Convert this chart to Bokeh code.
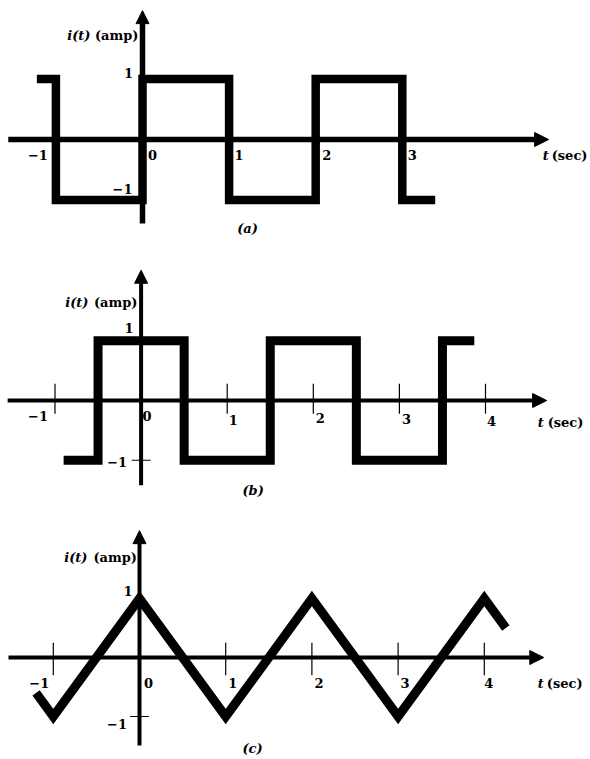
from bokeh.plotting import figure
from bokeh.models import Range1d, Arrow, NormalHead
from bokeh.layouts import column
from bokeh.embed import file_html
from bokeh.resources import INLINE
from bokeh.core.properties import value

# ---------------- data ----------------
a_t = [-1.22, -1, -1, 0, 0, 1, 1, 2, 2, 3, 3, 3.38]
a_i = [1, 1, -1, -1, 1, 1, -1, -1, 1, 1, -1, -1]

b_t = [-0.9, -0.5, -0.5, 0.5, 0.5, 1.5, 1.5, 2.5, 2.5, 3.5, 3.5, 3.87]
b_i = [-1, -1, 1, 1, -1, -1, 1, 1, -1, -1, 1, 1]

c_t = [-1.2, -1, 0, 1, 2, 3, 4, 4.25]
c_i = [-0.6, -1, 1, -1, 1, -1, 1, 0.5]

a_xticks = [-1, 0, 1, 2, 3]
bc_xticks = [-1, 0, 1, 2, 3, 4]
bc_tickmarks = [-1, 1, 2, 3, 4]
yticks = [1, -1]


def fmt(v):
    return ("\u2212" + str(-v)) if v < 0 else str(v)


FONT = value("DejaVu Serif")
FS = "13px"

# ---------------- layout helpers ----------------
W = 590


def panel(ref_top, height, x0, ux, ax_y, uy):
    xr = Range1d((0 - x0) / ux, (W - x0) / ux)
    yr = Range1d((ax_y - (ref_top + height)) / uy, (ax_y - ref_top) / uy)
    p = figure(width=W, height=height, x_range=xr, y_range=yr,
               output_backend="svg", toolbar_location=None,
               x_axis_location=None, y_axis_location=None, min_border=0)
    p.grid.visible = False
    p.outline_line_color = None
    p.background_fill_color = "white"
    p.border_fill_color = "white"
    return p


def axes(p, x_from, x_to, y_from, y_to, lw):
    p.add_layout(Arrow(end=NormalHead(size=14, fill_color="black", line_color="black"),
                       x_start=x_from, y_start=0, x_end=x_to, y_end=0,
                       line_width=lw, line_color="black"))
    p.add_layout(Arrow(end=NormalHead(size=13, fill_color="black", line_color="black"),
                       x_start=0, y_start=y_from, x_end=0, y_end=y_to,
                       line_width=lw, line_color="black"))


def txt(p, x, y, s, dx, dy, style="bold", align="center", baseline="middle"):
    p.text(x=[x], y=[y], text=[s], x_offset=dx, y_offset=dy,
           text_font=FONT, text_font_size=FS, text_font_style=style,
           text_align=align, text_baseline=baseline, text_color="black")


def titles(p, xtip, ydx_i, ydx_amp, ydy, tdx_t, tdx_sec, tdy, lab, ldx, ldy):
    txt(p, 0, 0, "i(t)", ydx_i, ydy, style="bold italic", align="right")
    txt(p, 0, 0, "(amp)", ydx_amp, ydy, align="right")
    txt(p, xtip, 0, "t", tdx_t, tdy, style="bold italic", align="left")
    txt(p, xtip, 0, "(sec)", tdx_sec, tdy, align="left")
    txt(p, 0, 0, lab, ldx, ldy, style="bold italic")


# ---------------- panel (a) ----------------
pa = panel(0, 258, 142, 86.6, 139, 60.5)
axes(pa, -1.55, 4.69, -1.39, 2.13, 5.5)
pa.line(a_t, a_i, line_width=8.5, line_color="black", line_join="miter", line_cap="butt")
a_dx = [-18, 10, 10, 11, 10]
for v, dx in zip(a_xticks, a_dx):
    txt(pa, v, 0, fmt(v), dx, 15)
txt(pa, 0, yticks[0], fmt(yticks[0]), -14, -6.5)
txt(pa, 0, yticks[1], fmt(yticks[1]), -20, -11.5)
titles(pa, 4.69, -52, -4, -104, -6, 3, 16, "(a)", 105, 89)

# ---------------- panel (b) ----------------
pb = panel(258, 250, 140.6, 86.1, 400, 59.75)
axes(pb, -1.55, 4.71, -1.42, 2.18, 4)
pb.segment(x0=bc_tickmarks, y0=[0.28] * len(bc_tickmarks), x1=bc_tickmarks,
           y1=[-0.22] * len(bc_tickmarks), line_width=1.2, line_color="black")
pb.segment(x0=[-0.11], y0=[yticks[1]], x1=[0.11], y1=[yticks[1]], line_width=1.2, line_color="black")
pb.line(b_t, b_i, line_width=9, line_color="black", line_join="miter", line_cap="butt")
b_dx = [-17, 6, 6, 7, 7, 6]
b_dy = [15, 15, 19, 17, 18, 20]
for v, dx, dy in zip(bc_xticks, b_dx, b_dy):
    txt(pb, v, 0, fmt(v), dx, dy)
txt(pb, 0, yticks[0], fmt(yticks[0]), -12, -13)
txt(pb, 0, yticks[1], fmt(yticks[1]), -24, 2)
titles(pb, 4.71, -52.6, -3.6, -98, -9, 1, 22, "(b)", 112, 90)

# ---------------- panel (c) ----------------
pc = panel(508, 250, 139, 86.2, 657, 59)
axes(pc, -1.52, 4.69, -1.49, 2.15, 4)
pc.segment(x0=bc_tickmarks, y0=[0.25] * len(bc_tickmarks), x1=bc_tickmarks,
           y1=[-0.3] * len(bc_tickmarks), line_width=1.2, line_color="black")
pc.segment(x0=[-0.11], y0=[yticks[1]], x1=[0.11], y1=[yticks[1]], line_width=1.2, line_color="black")
pc.line(c_t, c_i, line_width=9, line_color="black", line_join="miter", line_cap="butt")
c_dx = [-14, 9, 7, 7, 7, 4.5]
for v, dx in zip(bc_xticks, c_dx):
    txt(pc, v, 0, fmt(v), dx, 25)
txt(pc, 0, yticks[0], fmt(yticks[0]), -11.5, -8)
txt(pc, 0, yticks[1], fmt(yticks[1]), -22.5, 7)
titles(pc, 4.69, -52, -2.5, -100, -6, 3, 26, "(c)", 113, 91)

layout = column(pa, pb, pc, spacing=0)
open("out.html", "w").write(file_html(layout, INLINE))
